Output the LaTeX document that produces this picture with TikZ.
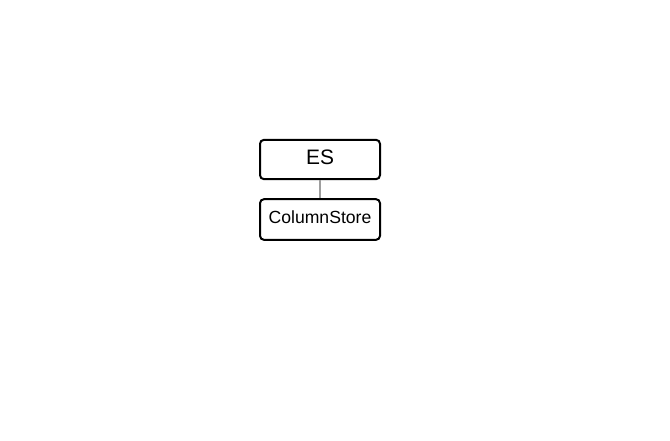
\documentclass[tikz,border=0pt]{standalone}
\usepackage{fontspec}
\setmainfont{Liberation Sans}
\begin{document}
\begin{tikzpicture}[x=0.75pt,y=-0.75pt,
  box/.style={draw=black,line width=1.5pt,rounded corners=3pt,minimum width=90pt,minimum height=29.5pt,inner sep=0pt,fill=white,text depth=3pt},
  link/.style={draw=black!38,line width=1pt}]
\useasboundingbox (0,0) rectangle (670,440);
\node[box,font=\fontsize{15.7}{18}\selectfont] (es) at (320,159.5) {ES};
\node[box,minimum height=30.5pt,font=\fontsize{13.2}{16}\selectfont] (cs) at (320,219.5) {ColumnStore};
\draw[link] (es.south) -- (cs.north);
\end{tikzpicture}
\end{document}
